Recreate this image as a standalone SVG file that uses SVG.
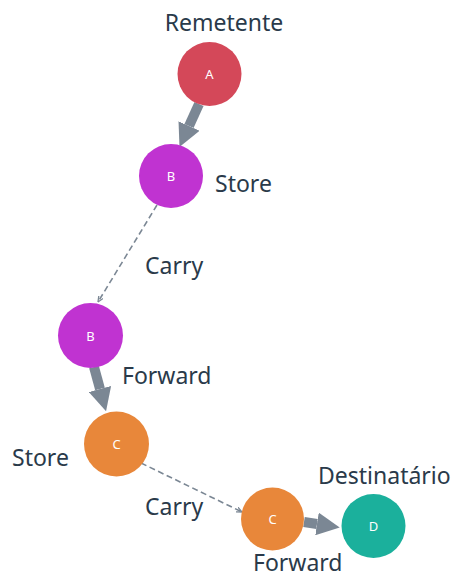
<svg xmlns="http://www.w3.org/2000/svg" width="453" height="579" viewBox="0 0 453 579">
  <style>
    .lbl { font-family: "Noto Sans", "Open Sans", sans-serif; font-size: 23px; fill: #2a3a4a; }
    .nid { font-family: "Noto Sans", sans-serif; font-size: 13px; fill: #ffffff; text-anchor: middle; dominant-baseline: central; }
    .fwd { fill: none; stroke: #7b8794; stroke-width: 10; }
    .dash { fill: none; stroke: #7b8794; stroke-width: 1.6; stroke-dasharray: 6 3.5; }
  </style>
  <defs>
    <marker id="headBig" viewBox="0 0 10 10" refX="0" refY="5" markerWidth="2.3" markerHeight="2.3" orient="auto" markerUnits="strokeWidth">
      <path d="M0,0 L10,5 L0,10 z" fill="#7b8794"/>
    </marker>
    <marker id="headSmall" viewBox="0 0 10 10" refX="9" refY="5" markerWidth="4" markerHeight="4" orient="auto" markerUnits="strokeWidth">
      <path d="M0,1 L9,5 L0,9" fill="none" stroke="#7b8794" stroke-width="2"/>
    </marker>
  </defs>

  <g id="connectors">
    <line class="fwd" x1="199" y1="104" x2="189" y2="126" marker-end="url(#headBig)"/>
    <line class="dash" x1="157" y1="205" x2="98" y2="302" marker-end="url(#headSmall)"/>
    <line class="fwd" x1="94" y1="367" x2="100" y2="389" marker-end="url(#headBig)"/>
    <line class="dash" x1="141" y1="463" x2="242" y2="512" marker-end="url(#headSmall)"/>
    <line class="fwd" x1="304" y1="522" x2="317" y2="524" marker-end="url(#headBig)"/>
  </g>

  <g id="node-a">
    <circle cx="209.5" cy="74" r="32" fill="#d44859"/>
    <text class="nid" x="209.5" y="74">A</text>
  </g>
  <g id="node-b-store">
    <circle cx="171" cy="176" r="32" fill="#c033d1"/>
    <text class="nid" x="171" y="176">B</text>
  </g>
  <g id="node-b-forward">
    <circle cx="90.5" cy="335.5" r="32.5" fill="#c033d1"/>
    <text class="nid" x="90.5" y="335.5">B</text>
  </g>
  <g id="node-c-store">
    <circle cx="116.5" cy="444" r="32.5" fill="#e8873a"/>
    <text class="nid" x="116.5" y="444">C</text>
  </g>
  <g id="node-c-forward">
    <circle cx="272.5" cy="519" r="31.5" fill="#e8873a"/>
    <text class="nid" x="272.5" y="519">C</text>
  </g>
  <g id="node-d">
    <circle cx="373.5" cy="526" r="32" fill="#1bb09c"/>
    <text class="nid" x="373.5" y="526">D</text>
  </g>

  <g id="labels">
    <text class="lbl" x="224" y="31" text-anchor="middle">Remetente</text>
    <text class="lbl" x="215" y="192">Store</text>
    <text class="lbl" x="145" y="274">Carry</text>
    <text class="lbl" x="122" y="384">Forward</text>
    <text class="lbl" x="12" y="466">Store</text>
    <text class="lbl" x="145" y="515">Carry</text>
    <text class="lbl" x="318" y="484">Destinatário</text>
    <text class="lbl" x="253" y="571">Forward</text>
  </g>
</svg>
